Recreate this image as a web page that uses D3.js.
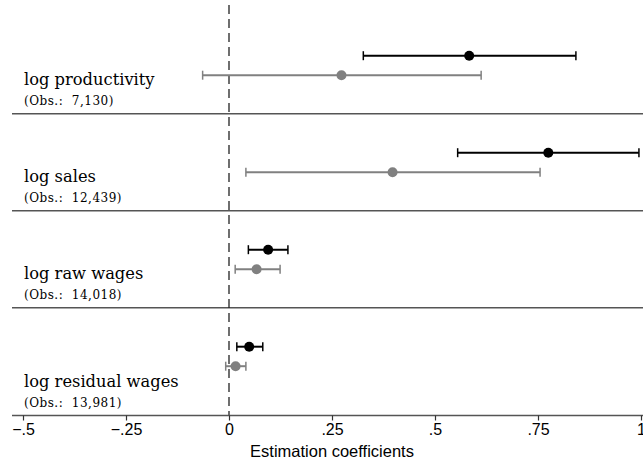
<!DOCTYPE html>
<html>
<head>
<meta charset="utf-8">
<script src="https://cdn.jsdelivr.net/npm/d3@7"></script>
<style>
  body { margin: 0; background: #fff; }
  svg { display: block; }
</style>
</head>
<body>
<div id="chart"></div>
<script>
// outcomes (top to bottom)
var outcomes = ["log productivity", "log sales", "log raw wages", "log residual wages"];
var obsLabels = ["7,130", "12,439", "14,018", "13,981"];

// black series: point estimate and 95% CI
var blackEst = [0.583, 0.775, 0.095, 0.049];
var blackLo = [0.326, 0.555, 0.047, 0.019];
var blackHi = [0.842, 0.995, 0.143, 0.082];

// gray series
var grayEst = [0.273, 0.397, 0.067, 0.016];
var grayLo = [-0.064, 0.041, 0.015, -0.008];
var grayHi = [0.612, 0.755, 0.124, 0.041];

var xTicks = [-0.5, -0.25, 0, 0.25, 0.5, 0.75, 1];
var xTickLabels = ["\u2212.5", "\u2212.25", "0", ".25", ".5", ".75", "1"];

var width = 643, height = 464;
var plotLeft = 12, plotRight = 643, axisY = 415.5;

var svg = d3.select("#chart")
    .append("svg")
    .attr("width", width)
    .attr("height", height);

// scales
var x = d3.scaleLinear()
    .domain([-0.5, 1])
    .range([23, 641]);

// one band per outcome
var y = d3.scaleBand()
    .domain(outcomes)
    .range([16.7, 404.7])
    .paddingInner(0);

var sepColor = "#555";

// separators between outcomes
svg.append("g")
    .selectAll("line")
    .data(outcomes.slice(1))
    .enter()
    .append("line")
    .attr("x1", plotLeft)
    .attr("x2", plotRight)
    .attr("y1", function (d) { return y(d); })
    .attr("y2", function (d) { return y(d); })
    .style("stroke", sepColor)
    .style("stroke-width", 1.4);

// zero reference line
svg.append("line")
    .attr("x1", x(0))
    .attr("x2", x(0))
    .attr("y1", 5)
    .attr("y2", axisY)
    .style("stroke", "#222")
    .style("stroke-width", 1.3)
    .style("stroke-dasharray", "9,5");

// x axis
var xAxis = svg.append("g")
    .attr("transform", "translate(0," + axisY + ")")
    .call(d3.axisBottom(x)
        .tickValues(xTicks)
        .tickFormat(function (d, i) { return xTickLabels[i]; })
        .tickSize(5)
        .tickPadding(3)
        .tickSizeOuter(0));
xAxis.select(".domain")
    .attr("d", "M" + plotLeft + ",0H" + plotRight)
    .style("stroke", sepColor)
    .style("stroke-width", 1.4);
xAxis.selectAll(".tick line")
    .style("stroke", "#333")
    .style("stroke-width", 1.2);
xAxis.selectAll(".tick text")
    .style("font-family", "'Liberation Sans', Arial, sans-serif")
    .style("font-size", "16px")
    .style("fill", "#000");

// x axis label
svg.append("text")
    .attr("x", (x(-0.5) + x(1)) / 2)
    .attr("y", 457)
    .attr("text-anchor", "middle")
    .style("font-family", "'Liberation Sans', Arial, sans-serif")
    .style("font-size", "16.5px")
    .text("Estimation coefficients");

// outcome labels, placed above the line that closes each panel
function panelBottom(d, i) {
    return i < outcomes.length - 1 ? y(outcomes[i + 1]) : axisY;
}

svg.append("g")
    .selectAll("text")
    .data(outcomes)
    .enter()
    .append("text")
    .attr("x", 24)
    .attr("y", function (d, i) { return panelBottom(d, i) - 29; })
    .style("font-family", "'DejaVu Serif', serif")
    .style("font-size", "16.3px")
    .text(function (d) { return d; });

svg.append("g")
    .selectAll("text")
    .data(obsLabels)
    .enter()
    .append("text")
    .attr("x", 24)
    .attr("y", function (d, i) { return panelBottom(d, i) - 9; })
    .style("font-family", "'DejaVu Serif', serif")
    .style("font-size", "12px")
    .style("letter-spacing", "0.5px")
    .text(function (d) { return "(Obs.:\u00a0 " + d + ")"; });

// draw one coefficient series with capped CIs
function drawSeries(est, lo, hi, offset, color) {
    var rows = outcomes.map(function (d, i) {
        return { name: d, est: est[i], lo: lo[i], hi: hi[i] };
    });
    var g = svg.append("g");
    var cy = function (d) { return y(d.name) + offset; };

    g.selectAll(".ci")
        .data(rows)
        .enter()
        .append("line")
        .attr("x1", function (d) { return x(d.lo); })
        .attr("x2", function (d) { return x(d.hi); })
        .attr("y1", cy)
        .attr("y2", cy)
        .style("stroke", color)
        .style("stroke-width", 2);

    ["lo", "hi"].forEach(function (k) {
        g.selectAll(".cap-" + k)
            .data(rows)
            .enter()
            .append("line")
            .attr("x1", function (d) { return x(d[k]); })
            .attr("x2", function (d) { return x(d[k]); })
            .attr("y1", function (d) { return cy(d) - 4.5; })
            .attr("y2", function (d) { return cy(d) + 4.5; })
            .style("stroke", color)
            .style("stroke-width", 1.5);
    });

    g.selectAll("circle")
        .data(rows)
        .enter()
        .append("circle")
        .attr("cx", function (d) { return x(d.est); })
        .attr("cy", cy)
        .attr("r", 5)
        .style("fill", color);
}

drawSeries(grayEst, grayLo, grayHi, 58.5, "#808080");
drawSeries(blackEst, blackLo, blackHi, 39, "#000");
</script>
</body>
</html>
